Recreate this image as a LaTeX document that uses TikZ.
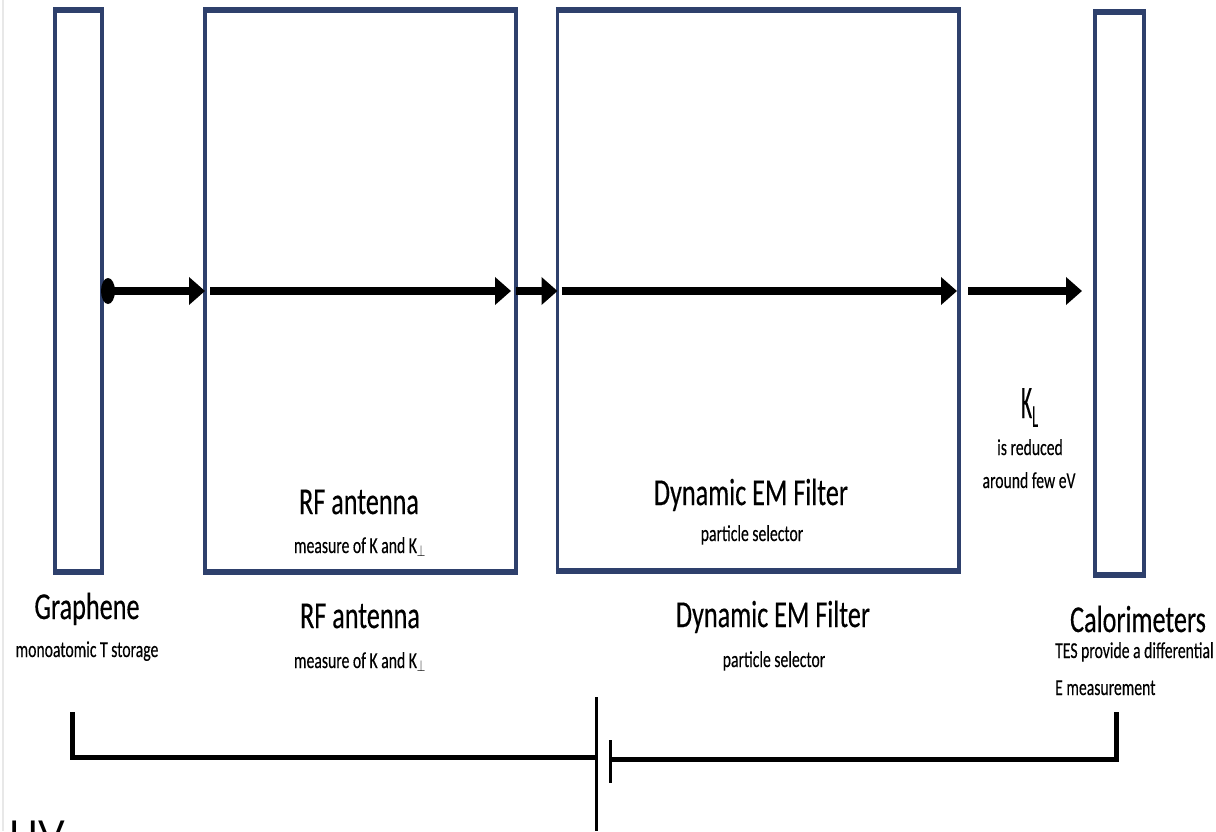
\documentclass[tikz,border=0pt]{standalone}
\usepackage{fontspec}
\setmainfont{Carlito}
\newfontface\mainface{Carlito}[FakeBold=0.35]
\newfontfamily\hvfont{Liberation Sans}
\usetikzlibrary{arrows.meta,shapes.geometric}
\definecolor{boxc}{RGB}{46,64,108}
\newcommand{\tl}[1]{\scalebox{1}[1.45]{#1}}
\tikzset{
  boxn/.style={draw=boxc, line width=3.5pt, rectangle, inner sep=0pt, outer sep=0pt},
  boxedge/.style={draw=boxc, line width=6pt},
  big/.style={font=\mainface\fontsize{26.2}{30}\selectfont, inner sep=0pt, anchor=base},
  small/.style={font=\mainface\fontsize{15.7}{18}\selectfont, inner sep=0pt, anchor=base},
  arr/.style={draw=black, line width=8.5pt, -{Triangle[length=16pt,width=27pt]}},
  wire/.style={draw=black, line width=5pt, line join=miter},
  plate/.style={draw=black, line width=3pt},
}
\begin{document}
\begin{tikzpicture}[x=1pt,y=-1pt]
\useasboundingbox (0,0) rectangle (1216,831);
\clip (0,0) rectangle (1216,831);
\fill[white] (0,0) rectangle (1216,831);
\draw[gray!18, line width=1.5pt] (3,0) -- (3,831);

% boxes
\node[boxn, minimum width=47pt, minimum height=562.5pt] (g) at (78.5,290.75) {};
\node[boxn, minimum width=311pt, minimum height=561.5pt] (rf) at (360.5,290.75) {};
\node[boxn, minimum width=401.5pt, minimum height=561.5pt] (em) at (758.25,290.25) {};
\node[boxn, minimum width=49pt, minimum height=562.5pt] (cal) at (1119.5,293.25) {};
\foreach \b in {g,rf,em,cal}{
  \draw[boxedge] ([xshift=-1.75pt]\b.north west) -- ([xshift=1.75pt]\b.north east);
  \draw[boxedge] ([xshift=-1.75pt]\b.south west) -- ([xshift=1.75pt]\b.south east);
}

% arrows
\node[ellipse, fill=black, minimum width=14pt, minimum height=26pt, inner sep=0pt] (dot) at (108,291) {};
\draw[arr] (dot.center) -- (dot.center -| rf.west);
\draw[arr] ([xshift=5pt]dot.center -| rf.west) -- ([xshift=-5pt]dot.center -| rf.east);
\draw[arr] (dot.center -| rf.east) -- (dot.center -| em.west);
\draw[arr] ([xshift=4pt]dot.center -| em.west) -- ([xshift=-2pt]dot.center -| em.east);
\draw[arr] ([xshift=9pt]dot.center -| em.east) -- ([xshift=-13pt]dot.center -| cal.west);

% texts inside boxes
\node[big] (rfin) at (359,514) {\tl{RF antenna}};
\node[small] (rfins) at (360,553) {\tl{measure of K and K$_{\perp}$}};
\node[big] (emin) at (751,505) {\tl{Dynamic EM Filter}};
\node[small] (emins) at (752,541) {\tl{particle selector}};

% K_L
\node[anchor=base west, inner sep=0pt, font=\mainface\fontsize{26.2}{30}\selectfont] (kl) at (1021,418)
  {\scalebox{0.8}[1.78]{K\raisebox{-5pt}{\fontsize{18}{18}\selectfont L}}};
\node[small] (kl1) at (1030,455) {\tl{is reduced}};
\node[small] (kl2) at (1029,488) {\tl{around few eV}};

% labels below
\node[big] (gl) at (87,619) {\tl{Graphene}};
\node[small] (gls) at (87,657) {\tl{monoatomic T storage}};
\node[big] (rfl) at (360,628) {\tl{RF antenna}};
\node[small] (rfls) at (360,668) {\tl{measure of K and K$_{\perp}$}};
\node[big] (eml) at (773,627) {\tl{Dynamic EM Filter}};
\node[small] (emls) at (774,667) {\tl{particle selector}};
\node[big] (call) at (1138,632) {\tl{Calorimeters}};
\node[small, anchor=base west] (cals1) at (1055,658) {\tl{TES provide a differential}};
\node[small, anchor=base west] (cals2) at (1055,695) {\tl{E measurement}};

% HV circuit
\coordinate (lt) at (72,712);
\coordinate (lp) at (596,757);
\coordinate (rp) at (610,759);
\coordinate (rt) at (1116,712);
\draw[wire] (lt) |- (lp);
\draw[wire] (rp) -| (rt);
\draw[plate] (596,697) -- (596,831);
\draw[plate] (610,740) -- (610,783);
\node[anchor=base west, inner sep=0pt, font=\hvfont\fontsize{40}{40}\selectfont] (hv) at (9,848) {HV};
\end{tikzpicture}
\end{document}
